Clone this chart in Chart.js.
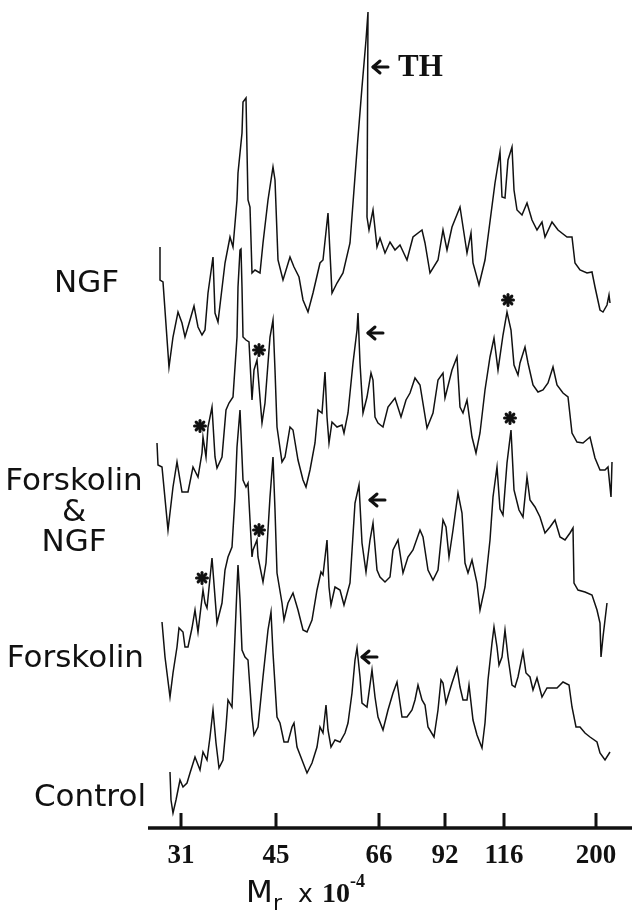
<!DOCTYPE html>
<html><head><meta charset="utf-8">
<script src="https://cdn.jsdelivr.net/npm/chart.js@4.4.0/dist/chart.umd.min.js"></script>
<style>html,body{margin:0;padding:0;background:#fff;} #wrap{position:relative;width:632px;height:918px;}</style>
</head><body><div id="wrap"><canvas id="c" width="632" height="918"></canvas></div>
<script>
// Migration positions of the Mr markers and their labels
const tickPositions = [181, 276, 379, 445, 504, 596];
const tickLabels = ['31', '45', '66', '92', '116', '200'];

const traceNames = ['NGF', 'Forskolin & NGF', 'Forskolin', 'Control'];
const traceOffsets = [450, 300, 150, 0];

// NGF scan
const ngfPos = [160,160,163,169,173,178,182,185,190,194,198,202,205,208,213,215,218,225,230,233,237,238,242,243,246,247,248,250,252,255,260,263,268,273,275,278,283,290,294,299,303,308,313,320,323,328,332,337,343,350,357,362,366,368,367,369,373,377,380,385,390,395,400,407,413,422,425,430,438,443,447,452,460,467,471,473,479,485,495,500,502,505,508,512,514,517,522,527,532,537,542,545,552,558,567,572,575,580,587,592,595,600,603,607,609,610];
const ngfVal = [131,98,96,11,41,66,55,41,58,72,51,43,48,85,121,65,56,115,141,131,178,205,245,276,280,228,178,171,105,108,105,135,178,211,198,118,98,121,111,101,78,66,85,115,118,165,85,95,105,135,228,291,338,366,161,148,168,131,140,125,136,128,133,118,141,148,135,105,118,148,128,151,171,125,145,115,93,118,195,226,181,180,218,231,188,168,163,175,158,148,156,141,156,148,141,141,115,108,105,106,91,68,66,73,83,75];

// Forskolin & NGF scan
const fnPos = [157,158,162,168,173,177,182,188,193,198,202,203,206,208,212,215,217,222,226,229,233,237,238,240,241,242,243,246,249,252,254,257,258,262,265,270,273,275,277,282,285,290,293,298,303,306,310,315,318,322,325,327,329,332,337,342,344,348,353,357,358,360,363,367,371,373,375,378,383,388,395,401,406,410,415,420,427,433,438,443,445,452,457,460,463,467,472,476,480,485,490,494,498,503,507,511,514,518,520,525,528,533,538,543,548,553,557,563,568,572,577,583,590,595,600,605,608,611,612];
const fnVal = [85,63,61,-2,41,66,36,36,61,51,75,91,71,101,121,71,60,71,118,125,131,191,241,278,279,241,191,188,186,128,158,168,155,105,125,191,208,158,101,66,71,101,98,68,48,41,58,85,118,115,156,111,85,106,101,103,95,115,165,198,215,165,115,131,155,148,111,105,101,121,130,111,128,135,150,143,100,115,148,155,130,158,171,121,115,128,91,75,95,138,171,190,158,193,216,198,163,153,165,181,165,143,136,138,145,161,143,135,131,95,86,85,91,70,58,58,61,31,66];

// Forskolin scan
const fkPos = [162,165,170,173,177,179,183,185,188,192,195,198,203,205,207,212,217,222,225,228,232,235,237,240,243,246,248,252,253,257,258,263,266,270,273,275,277,282,284,288,293,298,303,307,312,317,321,323,327,329,331,335,340,344,350,355,359,362,366,370,373,377,380,385,390,393,398,403,408,413,420,423,428,433,438,443,446,449,453,458,462,465,468,472,477,480,485,490,493,497,500,503,507,511,514,519,523,527,530,535,540,545,550,555,560,565,570,573,574,578,585,592,597,600,601,603,607];
const fkVal = [56,21,-19,5,31,50,46,31,31,50,68,46,88,75,70,120,55,75,108,121,131,181,231,268,198,191,195,121,128,138,121,96,115,181,221,168,105,75,58,75,85,68,48,46,58,88,106,103,138,91,73,91,88,73,95,175,193,135,106,138,155,108,101,96,101,128,138,105,121,128,148,141,108,98,108,158,151,121,148,185,165,115,105,118,95,68,91,138,181,211,169,163,215,248,188,168,161,201,178,171,161,145,151,158,141,138,145,150,95,88,86,83,68,55,21,41,75];

// Control scan
const ctPos = [170,171,173,176,178,180,183,187,190,195,200,203,207,210,213,216,219,223,226,228,232,234,237,238,240,242,245,248,252,254,258,263,268,271,273,277,280,284,288,292,294,297,302,307,312,317,320,323,326,328,331,335,340,345,348,352,355,357,360,362,367,372,375,378,383,388,393,397,402,407,412,415,418,422,425,428,434,438,441,443,446,452,457,460,463,467,469,473,477,482,485,488,492,494,497,499,502,505,508,512,515,518,523,526,530,533,537,542,547,552,557,563,569,572,576,580,585,590,597,600,605,610];
const ctVal = [56,28,15,28,38,48,41,45,55,71,58,76,68,91,118,85,60,68,101,128,121,168,241,263,228,178,171,168,111,93,101,151,198,216,175,111,105,86,86,101,105,81,68,55,65,81,101,95,123,98,81,88,86,95,105,135,168,180,151,125,121,158,131,111,98,118,135,146,111,111,118,128,143,128,123,101,91,118,148,145,125,145,160,141,128,128,143,108,93,80,105,148,185,201,181,163,171,198,171,143,141,151,176,155,151,138,150,131,140,140,140,146,143,121,101,101,95,91,86,75,68,76];

// Marks (data coordinates: position, stacked height)
const arrowMarks = [{x:373, y:761}, {x:368, y:495}, {x:370, y:328}, {x:362, y:171}];
const starMarks = [{x:200, y:402}, {x:259, y:478}, {x:508, y:528}, {x:202, y:250}, {x:259, y:298}, {x:510, y:410}];
const thLabel = {text:'TH', x:398, y:761};

const traces = [[ngfPos, ngfVal], [fnPos, fnVal], [fkPos, fkVal], [ctPos, ctVal]];

const decor = {
  id: 'decor',
  afterDraw(chart) {
    const ctx = chart.ctx, xs = chart.scales.x, ys = chart.scales.y, ca = chart.chartArea;
    ctx.save();
    ctx.strokeStyle = '#111'; ctx.fillStyle = '#111';
    // axis line
    ctx.lineWidth = 3.5; ctx.lineCap = 'butt';
    ctx.beginPath(); ctx.moveTo(ca.left, ca.bottom); ctx.lineTo(ca.right, ca.bottom); ctx.stroke();
    // tick marks pointing up
    ctx.lineWidth = 3;
    tickPositions.forEach(p => {
      const px = xs.getPixelForValue(p);
      ctx.beginPath(); ctx.moveTo(px, ca.bottom); ctx.lineTo(px, ca.bottom - 15); ctx.stroke();
    });
    // arrows
    ctx.lineWidth = 3; ctx.lineCap = 'round'; ctx.lineJoin = 'round';
    arrowMarks.forEach(a => {
      const px = xs.getPixelForValue(a.x), py = ys.getPixelForValue(a.y);
      ctx.beginPath(); ctx.moveTo(px, py); ctx.lineTo(px + 15, py); ctx.stroke();
      ctx.beginPath(); ctx.moveTo(px + 7, py - 6); ctx.lineTo(px, py); ctx.lineTo(px + 7, py + 6); ctx.stroke();
    });
    // asterisks
    ctx.lineWidth = 3; ctx.lineCap = 'round';
    starMarks.forEach(s => {
      const px = xs.getPixelForValue(s.x), py = ys.getPixelForValue(s.y);
      for (let k = 0; k < 4; k++) {
        const a = k * Math.PI / 4, r = 5.5;
        ctx.beginPath(); ctx.moveTo(px - r * Math.cos(a), py - r * Math.sin(a));
        ctx.lineTo(px + r * Math.cos(a), py + r * Math.sin(a)); ctx.stroke();
      }
      ctx.beginPath(); ctx.arc(px, py, 3, 0, Math.PI * 2); ctx.fill();
    });
    // TH label
    ctx.font = 'bold 31px "Liberation Serif"'; ctx.textBaseline = 'middle'; ctx.textAlign = 'left';
    ctx.fillText(thLabel.text, xs.getPixelForValue(thLabel.x), ys.getPixelForValue(thLabel.y) + 1);
    // trace labels
    ctx.font = '31px "DejaVu Sans"'; ctx.textBaseline = 'alphabetic';
    ctx.textAlign = 'left'; ctx.fillText('NGF', 54, 292);
    ctx.textAlign = 'center';
    ctx.fillText('Forskolin', 74, 490);
    ctx.fillText('&', 74, 521);
    ctx.fillText('NGF', 74, 551);
    ctx.textAlign = 'right';
    ctx.fillText('Forskolin', 144, 667);
    ctx.fillText('Control', 146, 806);
    // axis title  Mr x 10^-4
    ctx.textAlign = 'left';
    ctx.font = '31px "DejaVu Sans"'; ctx.fillText('M', 246, 902);
    ctx.font = '22px "DejaVu Sans"'; ctx.fillText('r', 273, 910);
    ctx.font = '25px "DejaVu Sans"'; ctx.fillText('x', 298, 902);
    ctx.font = 'bold 28px "Liberation Serif"'; ctx.fillText('10', 322, 902);
    ctx.font = 'bold 18px "Liberation Serif"'; ctx.fillText('-4', 350, 887);
    ctx.restore();
  }
};

new Chart(document.getElementById('c'), {
  type: 'line',
  data: {
    datasets: traces.map((t, i) => ({
      label: traceNames[i],
      data: t[0].map((x, j) => ({x: x, y: t[1][j] + traceOffsets[i]})),
      borderColor: '#111', borderWidth: 1.5, pointRadius: 0, tension: 0, fill: false
    }))
  },
  options: {
    responsive: false, animation: false, devicePixelRatio: 1,
    layout: {padding: {left: 148, right: 0, top: 0, bottom: 0}},
    plugins: {legend: {display: false}, tooltip: {enabled: false}},
    scales: {
      x: {
        type: 'linear', min: 148, max: 632, position: 'bottom',
        afterBuildTicks: s => { s.ticks = tickPositions.map(v => ({value: v})); },
        afterFit: s => { s.height = 90; },
        ticks: {
          callback: v => { const i = tickPositions.indexOf(v); return i >= 0 ? tickLabels[i] : ''; },
          font: {family: 'Liberation Serif', weight: 'bold', size: 27}, color: '#111',
          padding: 12, maxRotation: 0, autoSkip: false
        },
        grid: {display: false, drawTicks: false},
        border: {display: false}
      },
      y: {type: 'linear', min: 0, max: 828, display: false}
    }
  },
  plugins: [decor]
});
</script>
</body></html>
